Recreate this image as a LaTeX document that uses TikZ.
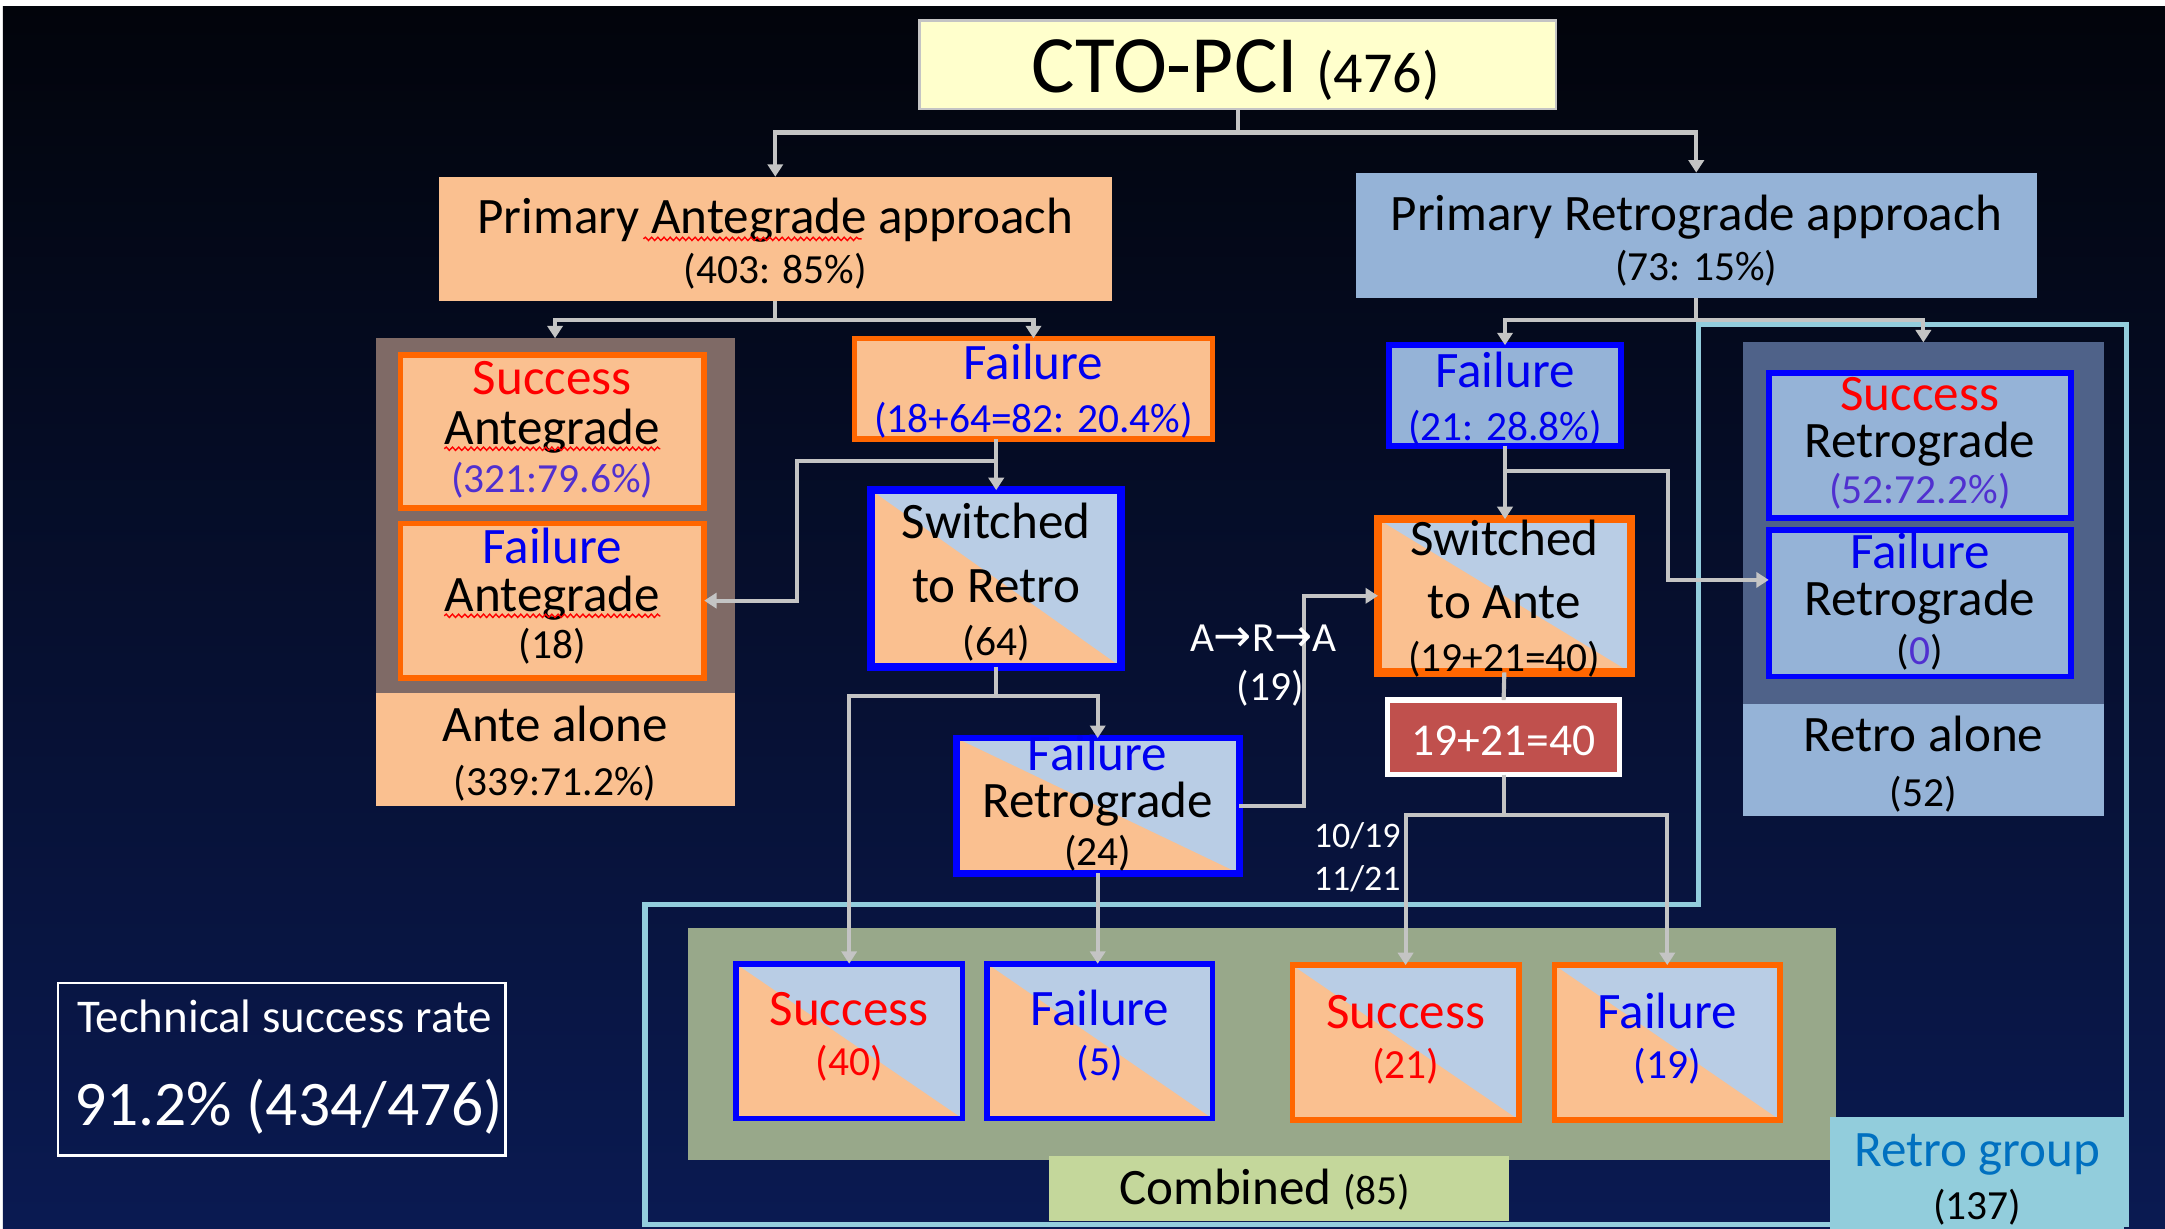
\documentclass[tikz,border=0pt]{standalone}
\usepackage{fontspec}
\setmainfont{Carlito}
\newfontfamily\arrowfont{DejaVu Sans}
\usetikzlibrary{arrows.meta,decorations.pathmorphing,calc}
\definecolor{bgtop}{HTML}{02040B}
\definecolor{bgmid}{HTML}{07133F}
\definecolor{bgbot}{HTML}{0A1A52}
\definecolor{peach}{HTML}{FAC090}
\definecolor{lblue}{HTML}{B9CDE5}
\definecolor{mblue}{HTML}{95B3D7}
\definecolor{obord}{HTML}{FF6600}
\definecolor{bbord}{HTML}{0000FF}
\definecolor{cyellow}{HTML}{FFFFCC}
\definecolor{brownc}{HTML}{7F6A66}
\definecolor{slatec}{HTML}{4F6289}
\definecolor{olivec}{HTML}{98A88A}
\definecolor{combc}{HTML}{C4D79B}
\definecolor{rgc}{HTML}{92CDDC}
\definecolor{rgline}{HTML}{93CDDD}
\definecolor{redbox}{HTML}{C0504D}
\definecolor{connc}{HTML}{C4C4C4}
\definecolor{sred}{HTML}{FF0000}
\definecolor{fblue}{HTML}{0000F0}
\definecolor{pct}{HTML}{5030D0}
\definecolor{rgtext}{HTML}{0070C0}
\tikzset{
  box/.style={rectangle, inner sep=0pt, outer sep=0pt},
  diag/.style={path picture={\fill[lblue] (path picture bounding box.north west) -- (path picture bounding box.north east) -- (path picture bounding box.south east) -- cycle;}},
  obox/.style={box, draw=obord, line width=4pt, fill=peach},
  bbox/.style={box, draw=bbord, line width=4pt, fill=mblue},
  conn/.style={draw=connc, line width=3pt},
  arr/.style={conn, -{Triangle[width=11pt,length=9pt]}},
  tw/.style={inner sep=0pt, anchor=base, font=\fontsize{37}{40}\selectfont},
  tn/.style={inner sep=0pt, anchor=base, font=\fontsize{30}{34}\selectfont},
  wavy/.style={draw=sred, line width=1pt, decorate, decoration={snake, amplitude=1.2pt, segment length=4.5pt}},
}
\begin{document}
\begin{tikzpicture}[x=1pt,y=-1pt]
\useasboundingbox (0,0) rectangle (1568,890);
\fill[white] (0,0) rectangle (1568,890);
\shade[top color=bgtop, middle color=bgmid, bottom color=bgbot] (2,5) rectangle (1568,890);

% retro group outline
\draw[rgline, line width=4pt] (1230,235) -- (1540,235) -- (1540,887) -- (467,887) -- (467,655) -- (1230,655) -- cycle;

% containers
\node[box, fill=brownc, minimum width=260, minimum height=257] (antc) at (402,373.5) {};
\node[box, fill=peach, minimum width=260, minimum height=82] (antealone) at (402,543) {};
\node[box, fill=slatec, minimum width=262, minimum height=262] (retc) at (1393,379) {};
\node[box, fill=mblue, minimum width=262, minimum height=81] (retroalone) at (1393,550.5) {};
\node[box, fill=olivec, minimum width=832, minimum height=168] (comb) at (914,756) {};
\node[box, fill=combc, minimum width=333, minimum height=47] (combl) at (926.5,860.5) {};
\node[box, fill=rgc, minimum width=213, minimum height=81] (rgl) at (1431.5,849.5) {};

% main boxes
\node[box, fill=cyellow, draw=connc, line width=2pt, minimum width=461, minimum height=64] (cto) at (896.5,47) {};
\node[box, fill=peach, minimum width=487, minimum height=90] (pa) at (561.5,173) {};
\node[box, fill=mblue, minimum width=493, minimum height=91] (pr) at (1228.5,170.5) {};
\node[obox, minimum width=220, minimum height=111] (sa) at (400,312.5) {};
\node[obox, minimum width=220, minimum height=112] (fa) at (400,435) {};
\node[obox, minimum width=259, minimum height=73] (fail1) at (748.5,281.5) {};
\node[box, draw=bbord, line width=6pt, fill=peach, diag, minimum width=181, minimum height=128] (sr) at (721.5,419) {};
\node[box, draw=bbord, line width=5pt, fill=peach, diag, minimum width=205, minimum height=98] (fr) at (795,583.5) {};
\node[bbox, minimum width=168, minimum height=73] (fail2) at (1090,286.5) {};
\node[box, draw=obord, line width=6pt, fill=peach, diag, minimum width=183, minimum height=111] (sa2) at (1089.5,431.5) {};
\node[box, draw=white, line width=4pt, fill=redbox, minimum width=168, minimum height=54] (redb) at (1089,534) {};
\node[bbox, minimum width=219, minimum height=105] (srr) at (1390.5,322.5) {};
\node[bbox, minimum width=219, minimum height=106] (frr) at (1390.5,437) {};
\node[box, draw=bbord, line width=4pt, fill=peach, diag, minimum width=164, minimum height=112] (s40) at (615,754) {};
\node[box, draw=bbord, line width=4pt, fill=peach, diag, minimum width=163, minimum height=112] (f5) at (796.5,754) {};
\node[box, draw=obord, line width=4pt, fill=peach, diag, minimum width=164, minimum height=112] (s21) at (1018,755) {};
\node[box, draw=obord, line width=4pt, fill=peach, diag, minimum width=163, minimum height=112] (f19) at (1207.5,755) {};
\node[box, draw=white, line width=2pt, minimum width=324, minimum height=125] (tech) at (204,774.5) {};

% connectors
\draw[arr] (cto.south) -- ++(0,17) -| (pa.north);
\draw[arr] (cto.south) -- ++(0,17) -| (pr.north);
\draw[arr] (pa.south) -- ++(0,14) -| (antc.north);
\draw[arr] (pa.south) -- ++(0,14) -| (fail1.north);
\draw[arr] (fail1.south -| sr.north) -- (sr.north);
\draw[arr] (fail1.south -| sr.north) -- ++(0,16) -- ++(-144,0) |- (fa.east);
\draw[arr] (sr.south) -- ++(0,21) -| (s40.north);
\draw[arr] (sr.south) -- ++(0,21) -| (fr.north);
\draw[arr] (fr.south) -- (fr.south |- f5.north);
\draw[arr] (fr.east) -- ++(47,0) |- (sa2.west);
\draw[arr] (pr.south) -- ++(0,16) -| (fail2.north);
\draw[arr] (pr.south) -- ++(0,16) -| (retc.north);
\draw[arr] (fail2.south) -- (fail2.south |- sa2.north);
\coordinate (bend) at (1208,420);
\draw[arr] (fail2.south) -- ++(0,18) -| (bend) -- (bend -| frr.west);
\draw[conn] (sa2.south) -- (redb.north);
\draw[arr] (redb.south) -- ++(0,29) -| (s21.north);
\draw[arr] (redb.south) -- ++(0,29) -| (f19.north);

% texts
\node[inner sep=0pt, anchor=base] (ctot) at (895,67) {\fontsize{59}{60}\selectfont CTO-PCI \fontsize{42}{44}\selectfont(476)};
\node[tw] (pat1) at (561.5,169) {Primary Antegrade approach};
\node[tn] (pat2) at (561.5,205) {(403: 85\%)};
\node[tw] (prt1) at (1228.5,167) {Primary Retrograde approach};
\node[tn] (prt2) at (1228.5,203) {(73: 15\%)};
\node[tw, text=sred] (sat1) at (400,286) {Success};
\node[tw] (sat2) at (400,322) {Antegrade};
\node[tn, text=pct] (sat3) at (400,357) {(321:79.6\%)};
\node[tw, text=fblue] (fat1) at (400,408) {Failure};
\node[tw] (fat2) at (400,443) {Antegrade};
\node[tn] (fat3) at (400,477) {(18)};
\node[tw, text=fblue] (f1t1) at (748.5,275) {Failure};
\node[tn, text=fblue] (f1t2) at (748.5,313) {(18+64=82: 20.4\%)};
\node[tw] (srt1) at (721.5,390) {Switched};
\node[tw] (srt2) at (721.5,436) {to Retro};
\node[tn] (srt3) at (721.5,475) {(64)};
\node[tw, text=fblue] (frt1) at (795,558) {Failure};
\node[tw] (frt2) at (795,592) {Retrograde};
\node[tn] (frt3) at (795,627) {(24)};
\node[tw, text=fblue] (f2t1) at (1090,281) {Failure};
\node[tn, text=fblue] (f2t2) at (1090,319) {(21: 28.8\%)};
\node[tw] (sa2t1) at (1089.5,402) {Switched};
\node[tw] (sa2t2) at (1089.5,448) {to Ante};
\node[tn] (sa2t3) at (1089.5,486) {(19+21=40)};
\node[inner sep=0pt, anchor=base, text=white, font=\fontsize{33}{36}\selectfont] (redt) at (1089,547) {19+21=40};
\node[tw, text=sred] (srrt1) at (1390.5,297) {Success};
\node[tw] (srrt2) at (1390.5,331) {Retrograde};
\node[tn, text=pct] (srrt3) at (1390.5,365) {(52:72.2\%)};
\node[tw, text=fblue] (frrt1) at (1390.5,412) {Failure};
\node[tw] (frrt2) at (1390.5,446) {Retrograde};
\node[tn] (frrt3) at (1390.5,481) {({\color{pct}0})};
\node[tw] (aat1) at (402,537) {Ante alone};
\node[tn] (aat2) at (402,576) {(339:71.2\%)};
\node[tw] (rat1) at (1393,544) {Retro alone};
\node[tn] (rat2) at (1393,584) {(52)};
\node[tw, text=sred] (s40t1) at (615,743) {Success};
\node[tn, text=sred] (s40t2) at (615,779) {(40)};
\node[tw, text=fblue] (f5t1) at (796.5,743) {Failure};
\node[tn, text=fblue] (f5t2) at (796.5,779) {(5)};
\node[tw, text=sred] (s21t1) at (1018,745) {Success};
\node[tn, text=sred] (s21t2) at (1018,781) {(21)};
\node[tw, text=fblue] (f19t1) at (1207.5,745) {Failure};
\node[tn, text=fblue] (f19t2) at (1207.5,781) {(19)};
\node[inner sep=0pt, anchor=base, text=white, font=\fontsize{34}{36}\selectfont] (techt1) at (206,748) {Technical success rate};
\node[inner sep=0pt, anchor=base, text=white, font=\fontsize{46}{48}\selectfont] (techt2) at (209,815) {91.2\% (434/476)};
\node[tw, text=rgtext] (rgt1) at (1432,845) {Retro group};
\node[tn] (rgt2) at (1432,883) {(137)};
\node[tw] (combt) at (916,872) {Combined \fontsize{30}{34}\selectfont(85)};
\node[tn, text=white] (art1) at (915,472) {A{\arrowfont\fontsize{33}{34}\selectfont →}R{\arrowfont\fontsize{33}{34}\selectfont →}A};
\node[tn, text=white] (art2) at (920,507) {(19)};
\node[inner sep=0pt, anchor=base, text=white, font=\fontsize{26}{30}\selectfont] (fr1) at (983,614) {10/19};
\node[inner sep=0pt, anchor=base, text=white, font=\fontsize{26}{30}\selectfont] (fr2) at (983,645) {11/21};

% spell-check underlines
\draw[wavy] (466,173) -- (624,173);
\draw[wavy] ($(sat2.base west)+(0,3)$) -- ($(sat2.base east)+(0,3)$);
\draw[wavy] ($(fat2.base west)+(0,3)$) -- ($(fat2.base east)+(0,3)$);
\end{tikzpicture}
\end{document}
